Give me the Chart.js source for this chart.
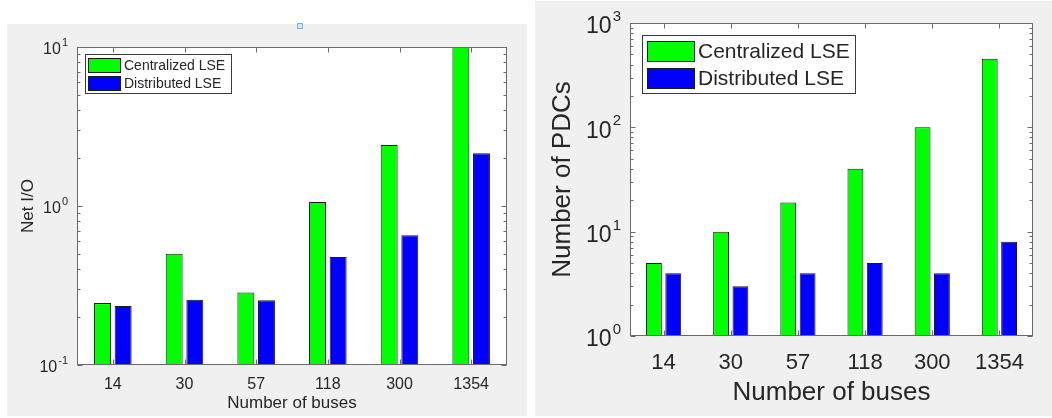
<!DOCTYPE html>
<html>
<head>
<meta charset="utf-8">
<script src="https://cdn.jsdelivr.net/npm/chart.js@4.4.1/dist/chart.umd.min.js"></script>
<style>
  body { margin: 0; background: #fff; width: 1052px; height: 418px; overflow: hidden; }
  .panel { position: absolute; background: #f0f0f0; }
  #p1 { left: 7px; top: 24px; width: 520px; height: 392px; }
  #p2 { left: 535px; top: 1px; width: 517px; height: 415px; }
  #mark { position: absolute; left: 297px; top: 23px; width: 4px; height: 4px; border: 1px solid #7fb0e0; background: #d6e8fa; }
</style>
</head>
<body>
<div class="panel" id="p1"><canvas id="ioChart"></canvas></div>
<div class="panel" id="p2"><canvas id="pdcChart"></canvas></div>
<div id="mark"></div>
<script>
var busCounts = ['14', '30', '57', '118', '300', '1354'];
var seriesNames = ['Centralized LSE', 'Distributed LSE'];
var seriesColors = ['#00ff00', '#0000ff'];

// left plot: net I/O
var netIoCentral = [0.245, 0.50, 0.286, 1.06, 2.42, 11];
var netIoDistrib = [0.235, 0.257, 0.255, 0.478, 0.654, 2.15];
var ioTicks = [0.1, 1, 10];

// right plot: number of PDCs
var pdcCentral = [5, 10, 19, 40, 100, 455];
var pdcDistrib = [4, 3, 4, 5, 4, 8];
var pdcTicks = [1, 10, 100, 1000];

var fam = '"Liberation Sans", Arial, Helvetica, sans-serif';
var txt = '#262626';

// matlab look: white axes box, inward ticks, 10^n labels, legend inside
var matlabAxes = {
  id: 'matlabAxes',
  beforeDraw: function (chart) {
    var a = chart.chartArea, ctx = chart.ctx;
    ctx.save();
    ctx.fillStyle = '#fff';
    ctx.fillRect(a.left, a.top, a.right - a.left, a.bottom - a.top);
    ctx.restore();
  },
  afterDraw: function (chart) {
    var o = chart.options.plugins.matlabAxes;
    var a = chart.chartArea, ctx = chart.ctx;
    var xs = chart.scales.x, ys = chart.scales.y;
    var L = Math.round(a.left) + 0.5, R = Math.round(a.right) - 0.5;
    var T = Math.round(a.top) + 0.5, B = Math.round(a.bottom) - 0.5;
    ctx.save();
    ctx.strokeStyle = '#6a6a6a';
    ctx.lineWidth = 1;
    ctx.beginPath();
    o.ticks.forEach(function (v, i) {
      var py = Math.round(ys.getPixelForValue(v)) + 0.5;
      ctx.moveTo(L, py); ctx.lineTo(L + 5, py);
      ctx.moveTo(R, py); ctx.lineTo(R - 5, py);
      if (i < o.ticks.length - 1) {
        for (var k = 2; k < 10; k++) {
          var my = Math.round(ys.getPixelForValue(v * k)) + 0.5;
          ctx.moveTo(L, my); ctx.lineTo(L + 3, my);
          ctx.moveTo(R, my); ctx.lineTo(R - 3, my);
        }
      }
    });
    chart.data.labels.forEach(function (l, i) {
      var px = Math.round(xs.getPixelForValue(i)) + 0.5;
      ctx.moveTo(px, B); ctx.lineTo(px, B - 5);
      ctx.moveTo(px, T); ctx.lineTo(px, T + 5);
    });
    ctx.stroke();
    ctx.strokeRect(L, T, R - L, B - T);

    // y tick labels as 10 with exponent
    ctx.fillStyle = txt;
    ctx.textBaseline = 'middle';
    o.ticks.forEach(function (v) {
      var py = ys.getPixelForValue(v);
      var e = String(Math.round(Math.log10(v)));
      ctx.font = o.expSize + 'px ' + fam;
      var ew = ctx.measureText(e).width;
      var right = a.left - o.labelGap;
      ctx.textAlign = 'left';
      ctx.fillText(e, right - ew, py + o.expDy);
      ctx.font = o.baseSize + 'px ' + fam;
      ctx.textAlign = 'right';
      ctx.fillText('10', right - ew - 1, py + o.baseDy);
    });

    // legend box
    var g = o.legend;
    var lx = Math.round(a.left + g.x) + 0.5, ly = Math.round(a.top + g.y) + 0.5;
    ctx.fillStyle = '#fff';
    ctx.fillRect(lx, ly, g.w, g.h);
    ctx.strokeStyle = '#3a3a3a';
    ctx.strokeRect(lx, ly, g.w, g.h);
    ctx.font = g.size + 'px ' + fam;
    ctx.textAlign = 'left';
    chart.data.datasets.forEach(function (ds, i) {
      var sy = Math.round(a.top + g.rows[i]) + 0.5;
      var sx = Math.round(a.left + g.sx) + 0.5;
      ctx.fillStyle = ds.backgroundColor;
      ctx.fillRect(sx, sy, g.sw, g.sh);
      ctx.strokeStyle = '#1a1a1a';
      ctx.strokeRect(sx, sy, g.sw, g.sh);
      ctx.fillStyle = txt;
      ctx.fillText(ds.label, a.left + g.tx, sy + g.sh / 2 + 1);
    });
    ctx.restore();
  }
};

function makeChart(id, central, distrib, yTicks, yTitle, s) {
  var ctx = document.getElementById(id).getContext('2d');
  return new Chart(ctx, {
    type: 'bar',
    data: {
      labels: busCounts,
      datasets: [{
        label: seriesNames[0],
        data: central,
        backgroundColor: seriesColors[0],
        borderColor: '#1a1a1a',
        borderWidth: 1,
        borderSkipped: false
      }, {
        label: seriesNames[1],
        data: distrib,
        backgroundColor: seriesColors[1],
        borderColor: '#1a1a1a',
        borderWidth: 1,
        borderSkipped: false
      }]
    },
    options: {
      responsive: true,
      maintainAspectRatio: false,
      animation: false,
      categoryPercentage: 0.576,
      barPercentage: 0.82,
      layout: { padding: { left: 0, top: s.top, right: s.right, bottom: 0 } },
      scales: {
        x: {
          grid: { display: false },
          border: { display: false },
          ticks: { color: txt, font: { family: fam, size: s.tickSize }, padding: s.tickPad, maxRotation: 0 },
          title: { display: true, text: 'Number of buses', color: txt,
                   font: { family: fam, size: s.titleSize }, padding: { top: 0, bottom: s.xTitlePad } },
          afterFit: function (scale) { scale.height = s.xHeight; }
        },
        y: {
          type: 'logarithmic',
          min: yTicks[0],
          max: yTicks[yTicks.length - 1],
          grid: { display: false },
          border: { display: false },
          ticks: { display: false },
          title: { display: true, text: yTitle, color: txt,
                   font: { family: fam, size: s.titleSize }, padding: { top: s.yTitlePad, bottom: 0 } },
          afterFit: function (scale) { scale.width = s.yWidth; }
        }
      },
      plugins: {
        legend: { display: false },
        tooltip: { enabled: false },
        matlabAxes: {
          ticks: yTicks,
          baseSize: s.baseSize, expSize: s.expSize, baseDy: s.baseDy, expDy: s.expDy,
          labelGap: s.labelGap,
          legend: s.legend
        }
      }
    },
    plugins: [matlabAxes]
  });
}

makeChart('ioChart', netIoCentral, netIoDistrib, ioTicks, 'Net I/O', {
  top: 23, right: 20, yWidth: 70, xHeight: 51,
  tickSize: 16, tickPad: 2, titleSize: 17, xTitlePad: 2, yTitlePad: 11,
  baseSize: 16, expSize: 11, baseDy: 3, expDy: -4, labelGap: 9,
  legend: { x: 8, y: 7, w: 146, h: 39, sx: 11, sw: 32, sh: 14, rows: [11, 28.5], tx: 47, size: 14 }
});

makeChart('pdcChart', pdcCentral, pdcDistrib, pdcTicks, 'Number of PDCs', {
  top: 22, right: 19, yWidth: 95, xHeight: 80,
  tickSize: 22, tickPad: 6, titleSize: 26, xTitlePad: 8, yTitlePad: 12,
  baseSize: 23, expSize: 15, baseDy: 4, expDy: -6, labelGap: 9,
  legend: { x: 12, y: 12, w: 213, h: 58, sx: 17, sw: 47, sh: 20, rows: [18, 44.5], tx: 68, size: 21 }
});
</script>
</body>
</html>
